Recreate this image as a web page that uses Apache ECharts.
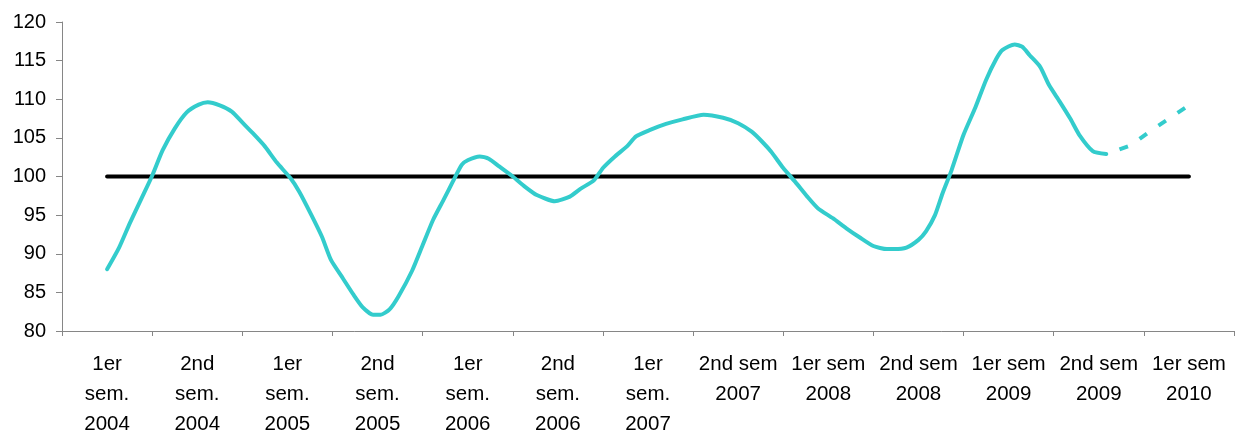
<!DOCTYPE html>
<html>
<head>
<meta charset="utf-8">
<script src="https://cdn.jsdelivr.net/npm/echarts@6/dist/echarts.min.js"></script>
<style>
html,body{margin:0;padding:0;background:#fff;}
#chart{width:1243px;height:432px;}
</style>
</head>
<body>
<div id="chart"></div>
<script>
// Semester categories (x-axis labels)
const categories = [
  "1er\nsem.\n2004", "2nd\nsem.\n2004", "1er\nsem.\n2005", "2nd\nsem.\n2005",
  "1er\nsem.\n2006", "2nd\nsem.\n2006", "1er\nsem.\n2007", "2nd sem\n2007",
  "1er sem\n2008", "2nd sem\n2008", "1er sem\n2009", "2nd sem\n2009", "1er sem\n2010"
];
// Reference level (black line), one value per semester
const referenceValues = [100,100,100,100,100,100,100,100,100,100,100,100,100];

// Index curve: position in months from the first semester label, and value
const indexMonths = [
  0.0, 0.8, 1.5, 2.3, 3.0, 3.7, 4.5, 5.3, 6.1, 6.7, 7.5, 8.3, 9.0, 9.7, 10.5, 11.3,
  12.2, 12.8, 13.6, 14.3, 14.9, 15.7, 16.4, 17.0, 17.7, 18.2, 18.8, 19.4, 20.3, 21.0,
  21.7, 22.4, 23.0, 23.6, 24.0, 24.8, 25.4, 26.1, 27.0, 27.8, 28.6, 29.8, 30.8, 31.5,
  32.4, 33.0, 33.8, 34.6, 35.2, 36.1, 37.2, 38.3, 39.7, 41.0, 42.0, 42.9, 43.6, 44.2,
  45.0, 45.8, 46.6, 47.3, 48.3, 49.2, 50.1, 51.0, 51.9, 52.4, 53.2, 54.0, 54.5, 55.1,
  55.6, 56.2, 57.0, 57.8, 58.5, 59.2, 59.6, 60.4, 60.9, 61.4, 62.1, 62.7, 63.4, 64.1,
  64.7, 65.6, 66.5
];
const indexValues = [
  88.0, 90.8, 93.9, 97.2, 100.1, 103.4, 106.2, 108.3, 109.3, 109.6, 109.2, 108.4, 107.0, 105.6, 103.9, 101.8,
  99.8, 98.0, 95.0, 92.2, 89.2, 86.8, 84.7, 83.1, 82.1, 82.1, 82.8, 84.5, 87.8, 91.1,
  94.4, 97.0, 99.3, 101.5, 102.1, 102.6, 102.3, 101.3, 100.0, 98.7, 97.6, 96.8, 97.4, 98.4,
  99.5, 101.1, 102.6, 103.9, 105.2, 106.0, 106.8, 107.4, 108.0, 107.6, 106.9, 105.8, 104.5, 103.2,
  101.1, 99.3, 97.4, 95.9, 94.6, 93.3, 92.1, 91.0, 90.6, 90.6, 90.8, 91.8, 92.9, 95.0,
  97.8, 100.8, 105.4, 109.0, 112.5, 115.3, 116.4, 117.1, 116.8, 115.7, 114.2, 111.8, 109.7, 107.5,
  105.4, 103.3, 102.9
];
// Forecast part (dashed)
const forecastMonths = [66.5, 68.1, 69.3, 70.6, 71.9];
const forecastValues = [102.9, 104.0, 105.7, 107.4, 109.1];

// Y axis ticks
const yMin = 80, yMax = 120, yStep = 5;

const FONT = "'Liberation Sans', Arial, sans-serif";
const TEAL = '#33cccc';
const AXIS = '#868686';

const chart = echarts.init(document.getElementById('chart'), null, {renderer: 'canvas'});
chart.setOption({
  animation: false,
  backgroundColor: '#ffffff',
  grid: {left: 62, right: 9, top: 22, bottom: 101, containLabel: false, outerBoundsMode: 'none'},
  xAxis: [
    {
      type: 'category',
      data: categories,
      boundaryGap: true,
      axisLine: {onZero: false, lineStyle: {color: AXIS, width: 1}},
      axisTick: {show: true, interval: 0, length: 5, lineStyle: {color: AXIS}},
      axisLabel: {interval: 0, color: '#000', fontSize: 20.5, fontFamily: FONT, lineHeight: 30, margin: 18},
      splitLine: {show: false}
    },
    {
      type: 'value',
      min: -3, max: 75,
      show: false,
      splitLine: {show: false}
    }
  ],
  yAxis: {
    type: 'value',
    min: yMin, max: yMax, interval: yStep,
    axisLine: {show: true, onZero: false, lineStyle: {color: AXIS, width: 1}},
    axisTick: {show: true, length: 6, lineStyle: {color: AXIS}},
    axisLabel: {color: '#000', fontSize: 20, fontFamily: FONT, margin: 16},
    splitLine: {show: false}
  },
  series: [
    {
      type: 'line',
      xAxisIndex: 0,
      data: referenceValues,
      symbol: 'none',
      lineStyle: {color: '#000', width: 4, cap: 'round'},
      z: 3
    },
    {
      type: 'line',
      xAxisIndex: 1,
      data: indexMonths.map((m, i) => [m, indexValues[i]]),
      symbol: 'none',
      smooth: 0.2,
      lineStyle: {color: TEAL, width: 4, cap: 'round', join: 'round'},
      z: 4
    },
    {
      type: 'line',
      xAxisIndex: 1,
      data: forecastMonths.map((m, i) => [m, forecastValues[i]]),
      symbol: 'none',
      lineStyle: {color: TEAL, width: 4, type: [9, 14], dashOffset: 9},
      z: 4
    }
  ]
});
</script>
</body>
</html>
